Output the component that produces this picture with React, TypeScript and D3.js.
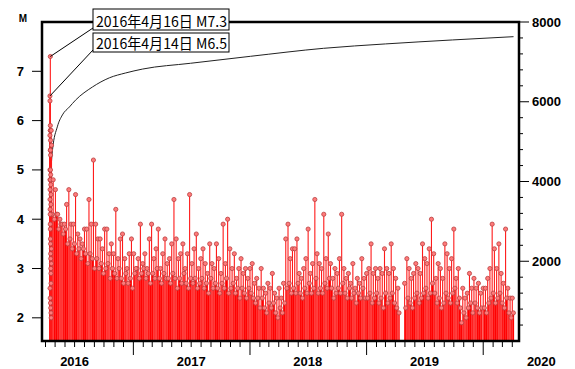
import * as d3 from "d3";
import { useEffect, useRef } from "react";

const WIDTH = 575;
const HEIGHT = 369;
const PLOT = { left: 42, top: 22, right: 519, bottom: 341 };

// time origin: 2016-04-14 21:26 foreshock
const ORIGIN = new Date(2016, 3, 14, 21, 26);

// first five days (days after origin, magnitude)
const EARLY_DAYS = [0, 0.03, 0.05, 0.11, 0.18, 0.2, 0.4, 1.17, 1.18, 1.19, 1.23, 1.27, 1.4, 1.41, 1.5, 1.78, 1.9, 2.3, 2.6, 3.0, 3.97, 4.85, 0.6, 0.8, 1.0, 1.3, 1.6, 2.0, 2.2, 2.5, 2.8, 3.2, 3.5, 0.3, 0.9, 1.7, 2.4, 3.3, 3.8, 4.3, 4.6];
const EARLY_MAGS = [6.5, 5.7, 5.0, 6.4, 4.8, 4.4, 4.6, 7.3, 5.4, 5.9, 5.8, 5.8, 5.4, 4.8, 5.0, 5.6, 5.3, 4.9, 4.7, 4.3, 5.8, 5.5, 4.2, 4.1, 3.9, 3.8, 3.6, 3.5, 3.3, 3.2, 3.0, 2.9, 2.7, 2.6, 2.4, 2.3, 2.2, 2.1, 2.0, 3.4, 3.1];

// weekly largest shock and typical shock, each year from its start date
const MAX_2016 = [4.5, 4.8, 4.6, 4.1, 4.0, 3.9, 3.9, 4.3, 4.6, 3.9, 3.9, 4.5, 3.7, 3.6, 3.5, 3.8, 3.8, 4.4, 3.9, 5.2, 3.9, 3.6, 3.6, 3.4, 3.8, 3.8, 3.3, 3.5, 3.3, 4.2, 3.2, 3.6, 3.7, 3.2, 3.0, 3.3, 3.6];
const BASE_2016 = [4.1, 4.0, 4.1, 3.8, 3.9, 3.7, 3.8, 3.5, 3.6, 3.4, 3.5, 3.3, 3.4, 3.2, 3.4, 3.3, 3.1, 3.3, 3.2, 3.0, 3.2, 3.0, 3.1, 2.9, 3.0, 3.1, 2.8, 3.0, 2.9, 2.8, 3.0, 2.8, 2.7, 2.9, 2.7, 2.8, 2.6];
const MAX_2017 = [3.3, 3.0, 3.2, 3.9, 3.1, 3.3, 3.0, 3.6, 3.9, 3.2, 3.4, 3.8, 3.0, 3.3, 3.6, 3.1, 3.2, 3.5, 4.4, 3.6, 3.2, 3.3, 3.5, 3.0, 3.3, 4.5, 3.1, 3.4, 3.7, 3.0, 3.2, 3.4, 3.1, 2.9, 3.5, 3.1, 3.0, 3.5, 3.2, 2.9, 3.9, 3.1, 4.0, 3.4, 3.0, 3.3, 2.8, 3.0, 3.2, 2.9, 3.0, 2.8];
const BASE_2017 = [2.9, 3.0, 2.8, 2.9, 3.0, 2.8, 2.9, 2.7, 2.9, 2.8, 3.0, 2.8, 2.7, 2.9, 2.8, 2.8, 2.7, 2.9, 2.8, 2.6, 2.8, 2.7, 2.9, 2.7, 2.6, 2.8, 2.7, 2.8, 2.6, 2.7, 2.8, 2.6, 2.7, 2.5, 2.8, 2.6, 2.7, 2.6, 2.5, 2.7, 2.6, 2.8, 2.5, 2.6, 2.7, 2.5, 2.6, 2.4, 2.6, 2.5, 2.4, 2.6];
const MAX_2018 = [3.0, 3.1, 2.7, 2.8, 2.6, 3.0, 2.6, 2.5, 2.7, 2.6, 2.9, 2.5, 2.4, 2.6, 2.4, 2.7, 3.6, 3.9, 3.2, 3.4, 3.4, 3.6, 2.9, 2.8, 3.0, 3.2, 3.8, 2.9, 3.1, 4.4, 3.3, 3.1, 3.0, 4.1, 3.2, 3.7, 3.1, 2.8, 3.0, 2.9, 3.2, 4.1, 3.0, 2.8, 2.9, 2.7, 3.1, 2.6, 2.8, 2.7, 3.2, 2.8];
const BASE_2018 = [2.5, 2.4, 2.3, 2.4, 2.2, 2.4, 2.2, 2.1, 2.3, 2.2, 2.3, 2.1, 2.0, 2.2, 2.1, 2.3, 2.6, 2.7, 2.5, 2.6, 2.5, 2.7, 2.5, 2.4, 2.6, 2.5, 2.7, 2.5, 2.6, 2.8, 2.5, 2.6, 2.5, 2.7, 2.6, 2.8, 2.6, 2.4, 2.5, 2.6, 2.5, 2.7, 2.5, 2.4, 2.6, 2.4, 2.5, 2.3, 2.5, 2.4, 2.6, 2.4];
const MAX_2019 = [2.9, 3.0, 3.5, 2.9, 3.0, 2.8, 3.0, 2.9, 3.4, 3.0, 2.9, 3.5, 3.0, 2.8, 2.6, null, null, 2.7, 3.2, 3.0, 2.8, 2.9, 3.1, 3.0, 2.9, 3.5, 3.2, 3.1, 3.4, 4.0, 3.3, 2.8, 3.1, 3.0, 2.8, 3.5, 3.3, 3.0, 3.2, 3.8, 2.8, 3.0, 2.2, 2.6, 2.4, 2.5, 2.9, 2.6, 2.8, 2.6, 2.7, 2.5];
const BASE_2019 = [2.4, 2.5, 2.3, 2.4, 2.5, 2.3, 2.4, 2.2, 2.5, 2.3, 2.4, 2.5, 2.3, 2.2, 2.1, null, null, 2.2, 2.4, 2.3, 2.2, 2.4, 2.5, 2.3, 2.4, 2.5, 2.6, 2.4, 2.5, 2.7, 2.5, 2.3, 2.4, 2.2, 2.3, 2.5, 2.4, 2.3, 2.5, 2.6, 2.3, 2.4, 1.9, 2.1, 2.0, 2.2, 2.3, 2.1, 2.3, 2.2, 2.1, 2.2];
const MAX_2020 = [2.6, 2.6, 2.8, 3.0, 3.9, 3.4, 3.0, 3.5, 2.9, 2.7, 3.8, 2.6, 2.4, 2.4];
const BASE_2020 = [2.2, 2.1, 2.3, 2.4, 2.5, 2.3, 2.4, 2.5, 2.3, 2.2, 2.4, 2.1, 2.0, 2.1];

const WEEKLY = [
    { start: new Date(2016, 3, 18), max: MAX_2016, base: BASE_2016 },
    { start: new Date(2017, 0, 2), max: MAX_2017, base: BASE_2017 },
    { start: new Date(2018, 0, 1), max: MAX_2018, base: BASE_2018 },
    { start: new Date(2019, 0, 1), max: MAX_2019, base: BASE_2019 },
    { start: new Date(2020, 0, 1), max: MAX_2020, base: BASE_2020 },
];

// cumulative number of shocks (right axis)
const CUM_DAYS = [0, 0.3, 0.7, 1.5, 2.5, 8, 23, 39, 61, 80, 133, 186, 236, 290, 440, 628, 856, 1050, 1260, 1451];
const CUM_COUNT = [0, 900, 2000, 3200, 4040, 4790, 5370, 5670, 5870, 6040, 6370, 6600, 6720, 6820, 6965, 7140, 7340, 7450, 7550, 7632];

const M_TICKS = [2, 3, 4, 5, 6, 7];
const N_TICKS = [2000, 4000, 6000, 8000];
const YEAR_LABELS = ["2016", "2017", "2018", "2019", "2020"];

const NOTES = [
    { text: "2016年4月16日 M7.3", day: 1.17, mag: 7.3, top: 9, bottom: 30 },
    { text: "2016年4月14日 M6.5", day: 0, mag: 6.5, top: 33, bottom: 52 },
];

type Quake = { date: Date; mag: number };

const addDays = (d: Date, n: number) => new Date(d.getTime() + n * 86400000);

export default function App() {
    const svgRef = useRef<SVGSVGElement | null>(null);

    useEffect(() => {
        if (!svgRef.current) return;
        const svg = d3.select(svgRef.current);
        svg.selectAll("*").remove();

        const x = d3.scaleTime().domain([new Date(2016, 2, 21), new Date(2020, 3, 22)]).range([PLOT.left, PLOT.right]);
        const yM = d3.scaleLinear().domain([1.53, 8]).range([PLOT.bottom, PLOT.top]);
        const yN = d3.scaleLinear().domain([0, 8000]).range([PLOT.bottom, PLOT.top]);

        const quakes: Quake[] = EARLY_DAYS.map((d, i) => ({ date: addDays(ORIGIN, d), mag: EARLY_MAGS[i] }));
        const typical: Quake[] = [];
        WEEKLY.forEach((w) => {
            w.max.forEach((m, i) => {
                if (m != null) quakes.push({ date: addDays(w.start, i * 7), mag: m });
            });
            w.base.forEach((m, i) => {
                if (m != null) typical.push({ date: addDays(w.start, i * 7 + 3.5), mag: m });
            });
        });

        svg.append("defs")
            .append("clipPath")
            .attr("id", "plot-clip")
            .append("rect")
            .attr("x", PLOT.left)
            .attr("y", PLOT.top)
            .attr("width", PLOT.right - PLOT.left)
            .attr("height", PLOT.bottom - PLOT.top);

        const plot = svg.append("g").attr("clip-path", "url(#plot-clip)");

        // cumulative count line
        const cum = CUM_DAYS.map((d, i) => ({ date: addDays(ORIGIN, d), n: CUM_COUNT[i] }));
        const line = d3
            .line<{ date: Date; n: number }>()
            .x((d) => x(d.date))
            .y((d) => yN(d.n))
            .curve(d3.curveMonotoneX);
        plot.append("path").attr("d", line(cum) ?? "").attr("fill", "none").attr("stroke", "#222").attr("stroke-width", 1);

        // stems
        plot.selectAll("line.base")
            .data(typical)
            .enter()
            .append("line")
            .attr("class", "base")
            .attr("x1", (d) => x(d.date))
            .attr("x2", (d) => x(d.date))
            .attr("y1", PLOT.bottom)
            .attr("y2", (d) => yM(d.mag))
            .attr("stroke", "#ff0000")
            .attr("stroke-width", 1.4);
        plot.selectAll("line.max")
            .data(quakes)
            .enter()
            .append("line")
            .attr("class", "max")
            .attr("x1", (d) => x(d.date))
            .attr("x2", (d) => x(d.date))
            .attr("y1", PLOT.bottom)
            .attr("y2", (d) => yM(d.mag))
            .attr("stroke", "#ff1a1a")
            .attr("stroke-width", 1.1);

        // markers
        plot.selectAll("circle")
            .data([...typical, ...quakes])
            .enter()
            .append("circle")
            .attr("cx", (d) => x(d.date))
            .attr("cy", (d) => yM(d.mag))
            .attr("r", 2.1)
            .attr("fill", "#ff7a7a")
            .attr("stroke", "#b84040")
            .attr("stroke-width", 0.8);

        // frame
        svg.append("rect")
            .attr("x", PLOT.left)
            .attr("y", PLOT.top)
            .attr("width", PLOT.right - PLOT.left)
            .attr("height", PLOT.bottom - PLOT.top)
            .attr("fill", "none")
            .attr("stroke", "#000")
            .attr("stroke-width", 2.5);

        const bold = "'Liberation Sans', Arial, sans-serif";

        // left axis (M)
        const left = svg.append("g");
        M_TICKS.forEach((m) => {
            left.append("line").attr("x1", PLOT.left - 10).attr("x2", PLOT.left).attr("y1", yM(m)).attr("y2", yM(m)).attr("stroke", "#000");
            left.append("text")
                .attr("x", 24)
                .attr("y", yM(m) + 4.5)
                .attr("text-anchor", "end")
                .attr("font-family", bold)
                .attr("font-weight", "bold")
                .attr("font-size", 13)
                .text(String(m));
        });
        left.append("text")
            .attr("x", 23)
            .attr("y", 22)
            .attr("text-anchor", "middle")
            .attr("font-family", bold)
            .attr("font-weight", "bold")
            .attr("font-size", 10)
            .text("M");

        // right axis (count)
        const right = svg.append("g");
        d3.range(400, 8000, 400)
            .filter((v) => v % 2000 !== 0)
            .forEach((v) => {
                right.append("line").attr("x1", PLOT.right).attr("x2", PLOT.right + 4).attr("y1", yN(v)).attr("y2", yN(v)).attr("stroke", "#000");
            });
        N_TICKS.forEach((v) => {
            right.append("line").attr("x1", PLOT.right).attr("x2", PLOT.right + 10).attr("y1", yN(v)).attr("y2", yN(v)).attr("stroke", "#000");
            right.append("text")
                .attr("x", 532)
                .attr("y", yN(v) + 4.5)
                .attr("font-family", bold)
                .attr("font-weight", "bold")
                .attr("font-size", 13)
                .text(String(v));
        });

        // bottom axis (time)
        const bottom = svg.append("g");
        const [d0, d1] = x.domain();
        d3.timeMonth.range(d0, d1).forEach((d) => {
            const major = d.getMonth() === 0;
            bottom.append("line")
                .attr("x1", x(d))
                .attr("x2", x(d))
                .attr("y1", PLOT.bottom)
                .attr("y2", PLOT.bottom + (major ? 14 : 6))
                .attr("stroke", "#000");
        });
        YEAR_LABELS.forEach((yr) => {
            bottom.append("text")
                .attr("x", x(new Date(+yr, 6, 1)))
                .attr("y", 366)
                .attr("text-anchor", "middle")
                .attr("font-family", bold)
                .attr("font-weight", "bold")
                .attr("font-size", 13)
                .text(yr);
        });

        // notes for the two largest shocks
        NOTES.forEach((n) => {
            svg.append("line")
                .attr("x1", x(addDays(ORIGIN, n.day)))
                .attr("y1", yM(n.mag))
                .attr("x2", 93)
                .attr("y2", n.bottom - 2)
                .attr("stroke", "#000")
                .attr("stroke-width", 1);
            svg.append("rect")
                .attr("x", 93)
                .attr("y", n.top)
                .attr("width", 136)
                .attr("height", n.bottom - n.top)
                .attr("fill", "#fff")
                .attr("stroke", "#000")
                .attr("stroke-width", 1);
            svg.append("text")
                .attr("x", 96)
                .attr("y", n.bottom - 3)
                .attr("font-family", "'Noto Sans CJK JP', sans-serif")
                .attr("font-size", 15)
                .attr("textLength", 131)
                .attr("lengthAdjust", "spacingAndGlyphs")
                .text(n.text);
        });
    }, []);

    return (
        <svg
            ref={svgRef}
            width={WIDTH}
            height={HEIGHT}
            style={{ position: "absolute", left: 0, top: 0, background: "#fff" }}
        />
    );
}
